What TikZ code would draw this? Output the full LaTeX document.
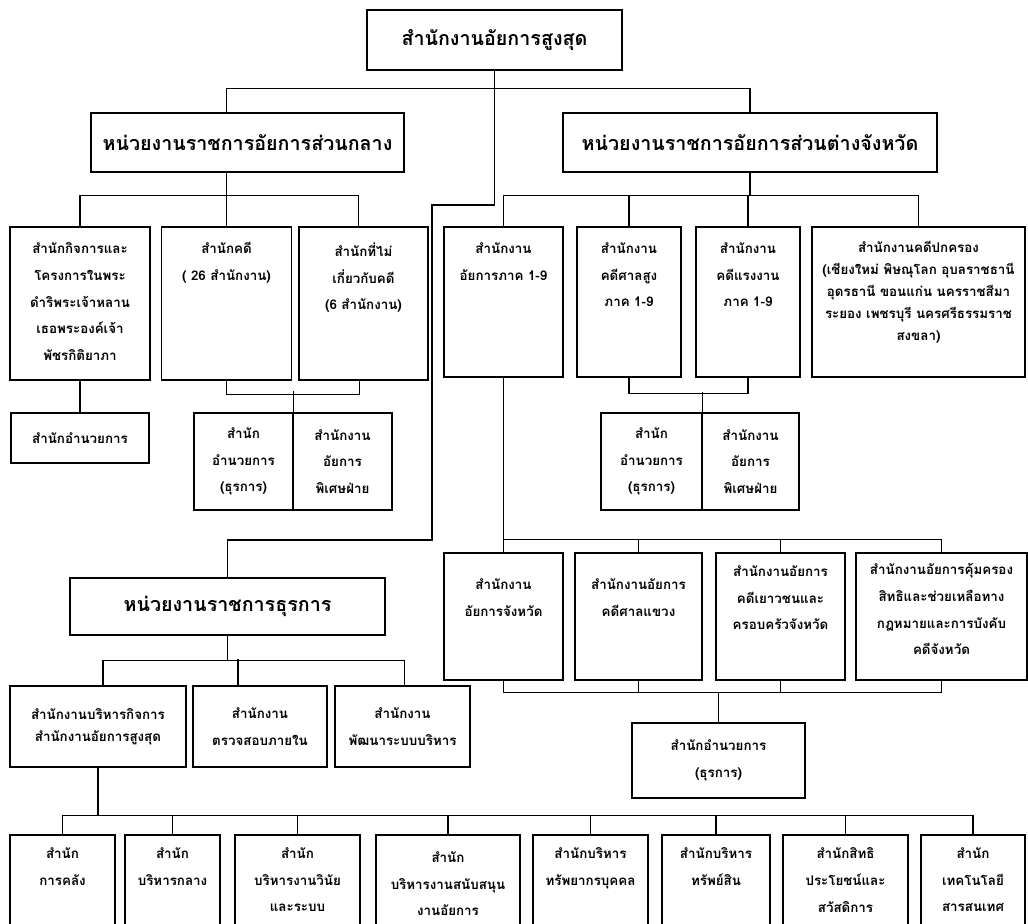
\documentclass[tikz,border=0pt]{standalone}
\usepackage{fontspec}
\newfontfamily\thaifont[Script=Thai]{Loma}
\usetikzlibrary{positioning}
\newlength\pxu
\setlength\pxu{0.025cm}

\begin{document}
\begin{tikzpicture}[x=0.025cm, y=-0.025cm,
box/.style={rectangle, draw, line width=0.9pt, inner sep=0pt},
txt/.style={align=center, inner sep=0pt, font=\thaifont\bfseries\fontsize{9.5}{19}\selectfont},
txtdense/.style={txt, font=\thaifont\bfseries\fontsize{9.5}{15.5}\selectfont},
boxtxt/.style={box, txt},
hdr/.style={box, align=center, font=\thaifont\bfseries\fontsize{14}{18}\selectfont},
link/.style={line width=0.9pt},
]
\useasboundingbox (0,0) rectangle (1028,924);
\clip (0,0) rectangle (1028,924);
\fill[white] (0,0) rectangle (1028,924);

\node at (494.5,40) [hdr, minimum width=255\pxu, minimum height=60\pxu] (top) {สำนักงานอัยการสูงสุด};
\node at (247.5,142.5) [hdr, minimum width=313\pxu, minimum height=59\pxu] (central) {หน่วยงานราชการอัยการส่วนกลาง};
\node at (750,142.5) [hdr, minimum width=374\pxu, minimum height=59\pxu] (provincial) {หน่วยงานราชการอัยการส่วนต่างจังหวัด};
\node at (227.5,606.5) [hdr, minimum width=315\pxu, minimum height=57\pxu] (adminunits) {หน่วยงานราชการธุรการ};

% central offices
\node at (80,303.5) [box, minimum width=140\pxu, minimum height=153\pxu] (royal) {};
\node [txt, below=16\pxu of royal.north] (royal_text) {สำนักกิจการและ\\โครงการในพระ\\ดำริพระเจ้าหลาน\\เธอพระองค์เจ้า\\พัชรกิติยาภา};
\node at (226.5,303.5) [box, minimum width=130\pxu, minimum height=153\pxu] (cases) {};
\node [txt, below=16\pxu of cases.north] (cases_text) {สำนักคดี\\( 26 สำนักงาน)};
\node at (363.5,303.5) [box, minimum width=129\pxu, minimum height=153\pxu] (noncases) {};
\node [txt, below=16\pxu of noncases.north] (noncases_text) {สำนักที่ไม่\\เกี่ยวกับคดี\\(6 สำนักงาน)};

\node at (80,438) [boxtxt, minimum width=138\pxu, minimum height=50\pxu] (royal_admin) {สำนักอำนวยการ};
\node at (243.5,461.5) [boxtxt, minimum width=99\pxu, minimum height=97\pxu] (central_admin) {สำนัก\\อำนวยการ\\(ธุรการ)};
\node at (342.5,461.5) [boxtxt, minimum width=99\pxu, minimum height=97\pxu] (central_special) {สำนักงาน\\อัยการ\\พิเศษฝ่าย};

% provincial offices
\node at (503.5,302) [box, minimum width=119\pxu, minimum height=150\pxu] (region) {};
\node [txt, below=16\pxu of region.north] (region_text) {สำนักงาน\\อัยการภาค 1-9};
\node at (629,302) [box, minimum width=104\pxu, minimum height=150\pxu] (highcourt) {};
\node [txt, below=16\pxu of highcourt.north] (highcourt_text) {สำนักงาน\\คดีศาลสูง\\ภาค 1-9};
\node at (748,302) [box, minimum width=104\pxu, minimum height=150\pxu] (labour) {};
\node [txt, below=16\pxu of labour.north] (labour_text) {สำนักงาน\\คดีแรงงาน\\ภาค 1-9};
\node at (918.5,302) [box, minimum width=213\pxu, minimum height=150\pxu] (admincourt) {};
\node [txtdense, below=15\pxu of admincourt.north] (admincourt_text) {สำนักงานคดีปกครอง\\(เชียงใหม่ พิษณุโลก อุบลราชธานี\\อุดรธานี ขอนแก่น นครราชสีมา\\ระยอง เพชรบุรี นครศรีธรรมราช\\สงขลา)};

\node at (651.5,461.5) [boxtxt, minimum width=101\pxu, minimum height=97\pxu] (region_admin) {สำนัก\\อำนวยการ\\(ธุรการ)};
\node at (750.5,461.5) [boxtxt, minimum width=97\pxu, minimum height=97\pxu] (region_special) {สำนักงาน\\อัยการ\\พิเศษฝ่าย};

\node at (503.5,616.5) [box, minimum width=119\pxu, minimum height=127\pxu] (province) {};
\node [txt, below=26\pxu of province.north] (province_text) {สำนักงาน\\อัยการจังหวัด};
\node at (638.5,616.5) [box, minimum width=127\pxu, minimum height=127\pxu] (district) {};
\node [txt, below=26\pxu of district.north] (district_text) {สำนักงานอัยการ\\คดีศาลแขวง};
\node at (780.5,616.5) [box, minimum width=129\pxu, minimum height=127\pxu] (juvenile) {};
\node [txt, below=13\pxu of juvenile.north] (juvenile_text) {สำนักงานอัยการ\\คดีเยาวชนและ\\ครอบครัวจังหวัด};
\node at (941.5,616.5) [box, minimum width=171\pxu, minimum height=127\pxu] (rights) {};
\node [txt, below=11\pxu of rights.north] (rights_text) {สำนักงานอัยการคุ้มครอง\\สิทธิและช่วยเหลือทาง\\กฎหมายและการบังคับ\\คดีจังหวัด};

\node at (718.5,760.5) [boxtxt, minimum width=173\pxu, minimum height=75\pxu] (province_admin) {สำนักอำนวยการ\\(ธุรการ)};

% administrative offices
\node at (98,726.5) [box, txtdense, minimum width=176\pxu, minimum height=81\pxu] (affairs) {สำนักงานบริหารกิจการ\\สำนักงานอัยการสูงสุด};
\node at (260,726.5) [boxtxt, minimum width=134\pxu, minimum height=81\pxu] (audit) {สำนักงาน\\ตรวจสอบภายใน};
\node at (402.5,726.5) [boxtxt, minimum width=135\pxu, minimum height=81\pxu] (develop) {สำนักงาน\\พัฒนาระบบบริหาร};

\node at (62.5,900) [box, minimum width=105\pxu, minimum height=130\pxu] (finance) {};
\node [txt, below=13\pxu of finance.north] {สำนัก\\การคลัง};
\node at (172.5,900) [box, minimum width=95\pxu, minimum height=130\pxu] (centralmgmt) {};
\node [txt, below=13\pxu of centralmgmt.north] {สำนัก\\บริหารกลาง};
\node at (297.5,900) [box, minimum width=125\pxu, minimum height=130\pxu] (discipline) {};
\node [txt, below=13\pxu of discipline.north] {สำนัก\\บริหารงานวินัย\\และระบบ};
\node at (448,900) [box, minimum width=144\pxu, minimum height=130\pxu] (support) {};
\node [txt, below=17\pxu of support.north] {สำนัก\\บริหารงานสนับสนุน\\งานอัยการ};
\node at (590.5,900) [box, minimum width=115\pxu, minimum height=130\pxu] (personnel) {};
\node [txt, below=13\pxu of personnel.north] {สำนักบริหาร\\ทรัพยากรบุคคล};
\node at (716,900) [box, minimum width=108\pxu, minimum height=130\pxu] (assets) {};
\node [txt, below=13\pxu of assets.north] {สำนักบริหาร\\ทรัพย์สิน};
\node at (845.5,900) [box, minimum width=125\pxu, minimum height=130\pxu] (welfare) {};
\node [txt, below=13\pxu of welfare.north] {สำนักสิทธิ\\ประโยชน์และ\\สวัสดิการ};
\node at (973,900) [box, minimum width=104\pxu, minimum height=130\pxu] (infotech) {};
\node [txt, below=13\pxu of infotech.north] {สำนัก\\เทคโนโลยี\\สารสนเทศ};

% top level links
\draw[link] (top.south) -- ++(0,18) coordinate (bus_top);
\draw[link] ([xshift=-21\pxu]central.north) |- (bus_top) -| (provincial.north);
\coordinate (bend_a) at (432,205);
\coordinate (bend_b) at (432,540);
\draw[link] (bus_top) |- (bend_a) -- (bend_b) -| (adminunits.north);

% central links
\draw[link] ([xshift=-21\pxu]central.south) -- ++(0,23) coordinate (bus_central);
\draw[link] (royal.north) |- (bus_central) -| ([xshift=-5\pxu]noncases.north);
\draw[link] (cases.north) -- (cases.north |- bus_central);
\draw[link] (royal.south) -- (royal_admin.north);
\draw[link] (cases.south) -- ++(0,14) -| ([xshift=-4\pxu]noncases.south);
\draw[link] (central_admin.north east) -- ++(0,-21);

% provincial links
\draw[link] (provincial.south) -- ++(0,23) coordinate (bus_prov);
\draw[link] (region.north) |- (bus_prov) -| (admincourt.north);
\draw[link] (highcourt.north) -- (highcourt.north |- bus_prov);
\draw[link] (labour.north) -- (labour.north |- bus_prov);
\draw[link] (highcourt.south) -- ++(0,16) -| (labour.south);
\draw[link] (region_admin.north east) -- ++(0,-20);
\draw[link] (region.south) -- (province.north);
\path (province.north) ++(0,-13) coordinate (bus_q);
\draw[link] (bus_q) -| (rights.north);
\draw[link] (district.north) -- (district.north |- bus_q);
\draw[link] (juvenile.north) -- (juvenile.north |- bus_q);
\path (province.south) ++(0,12) coordinate (bus_qs);
\draw[link] (province.south) -- (bus_qs) -| (rights.south);
\draw[link] (district.south) -- (district.south |- bus_qs);
\draw[link] (juvenile.south) -- (juvenile.south |- bus_qs);
\draw[link] (province_admin.north) -- (province_admin.north |- bus_qs);

% administrative links
\draw[link] (adminunits.south) -- ++(0,25) coordinate (bus_adm);
\draw[link] ([xshift=5\pxu]affairs.north) |- (bus_adm) -| ([xshift=2\pxu]develop.north);
\draw[link] ([xshift=-22\pxu]audit.north) -- ++(0,-26);
\draw[link] (affairs.south) -- ++(0,48) coordinate (bus_bottom);
\draw[link] (finance.north) |- (bus_bottom) -| (infotech.north);
\foreach \office in {centralmgmt,discipline,support,personnel,assets,welfare}
  \draw[link] (\office.north) -- (\office.north |- bus_bottom);

\end{tikzpicture}
\end{document}
